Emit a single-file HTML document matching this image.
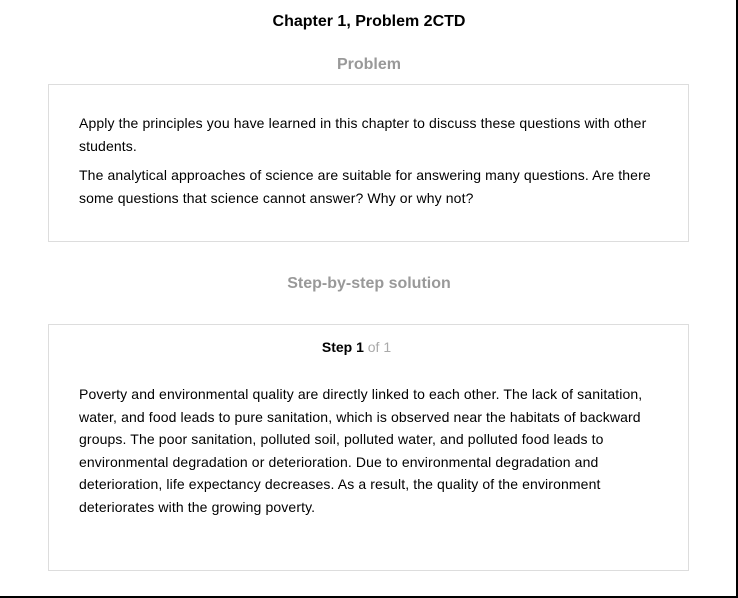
<!DOCTYPE html>
<html><head><meta charset="utf-8"><style>
body{margin:0;width:738px;height:598px;position:relative;background:#fff;font-family:"Liberation Sans",Arial,sans-serif;color:#000;overflow:hidden}
.frame{position:absolute;left:0;top:0;width:736px;height:596px;border-right:2px solid #000;border-bottom:2px solid #000}
.t{position:absolute;left:0;width:738px;text-align:center;font-weight:bold}
.box{position:absolute;left:48px;width:639px;border:1px solid #ddd;box-sizing:content-box}
p{margin:0;font-size:14px;line-height:22.5px;position:absolute;left:30px;width:590px;letter-spacing:0.12px}
</style></head><body>
<div class="frame"></div>
<div class="t" style="top:13px;font-size:16px">Chapter 1, Problem 2CTD</div>
<div class="t" style="top:56px;font-size:16px;color:#999">Problem</div>
<div class="box" style="top:84px;height:156px">
<p style="top:27px">Apply the principles you have learned in this chapter to discuss these questions with other students.</p>
<p style="top:79px">The analytical approaches of science are suitable for answering many questions. Are there some questions that science cannot answer? Why or why not?</p>
</div>
<div class="t" style="top:275px;font-size:16px;color:#999">Step-by-step solution</div>
<div class="box" style="top:324px;height:245px">
<div style="position:absolute;top:14px;left:0;width:615px;text-align:center;font-size:14px"><b>Step 1</b> <span style="color:#aaa">of 1</span></div>
<p style="top:58px;width:580px">Poverty and environmental quality are directly linked to each other. The lack of sanitation, water, and food leads to pure sanitation, which is observed near the habitats of backward groups. The poor sanitation, polluted soil, polluted water, and polluted food leads to environmental degradation or deterioration. Due to environmental degradation and deterioration, life expectancy decreases. As a result, the quality of the environment deteriorates with the growing poverty.</p>
</div>
</body></html>
